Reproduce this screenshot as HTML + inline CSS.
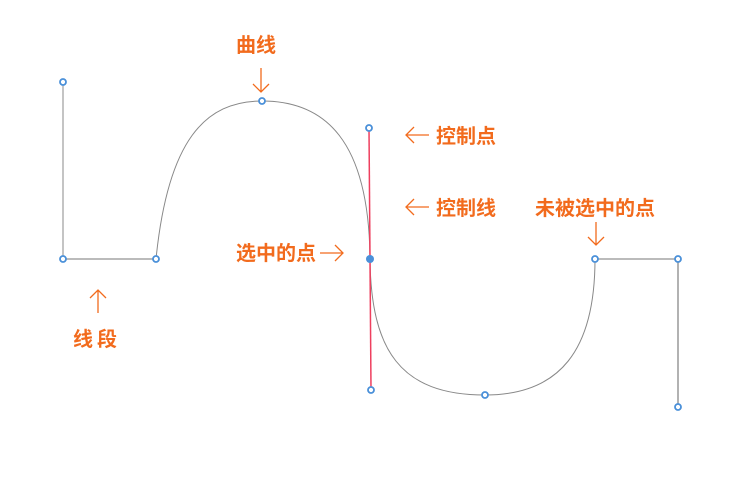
<!DOCTYPE html>
<html><head><meta charset="utf-8"><style>
html,body{margin:0;padding:0;background:#fff;width:731px;height:490px;overflow:hidden}
text{font-family:"Liberation Sans","Noto Sans CJK SC",sans-serif;font-weight:bold;font-size:20px;fill:#f26b1d}
</style></head><body>
<svg width="731" height="490" viewBox="0 0 731 490" xmlns="http://www.w3.org/2000/svg">
<g fill="none">
<line x1="63" y1="82" x2="63" y2="259" stroke="#888" stroke-width="1"/>
<line x1="63" y1="259" x2="156" y2="259" stroke="#bbb" stroke-width="2"/>
<line x1="595" y1="259" x2="678" y2="259" stroke="#bbb" stroke-width="2"/>
<line x1="678" y1="259" x2="678" y2="407" stroke="#999" stroke-width="1.5"/>
<path d="M156 259 C168 140 205 101 262 101 C325 101 369 140 370 259 C371 350 400 395 485 395 C560 395 595 350 595 259" stroke="#888" stroke-width="1"/>
<line x1="369" y1="128" x2="371" y2="390" stroke="#ee3f5e" stroke-width="1.5"/>
<g stroke="#f26b1d" stroke-width="1.3">
<path d="M261 68 V92 M253 84 L261 92 L269 84"/>
<path d="M98 313 V290 M90 298 L98 290 L106 298"/>
<path d="M429 135 H406 M414 127 L406 135 L414 143"/>
<path d="M429 207 H406 M414 199 L406 207 L414 215"/>
<path d="M320 253 H343 M335 245 L343 253 L335 261"/>
<path d="M596 222 V245 M588 237 L596 245 L604 237"/>
</g>
</g>
<g fill="#fff" stroke="#4a90d9" stroke-width="1.8">
<circle cx="63" cy="82" r="3"/><circle cx="63" cy="259" r="3"/><circle cx="156" cy="259" r="3"/>
<circle cx="262" cy="101" r="3"/><circle cx="369" cy="128" r="3"/><circle cx="371" cy="390" r="3"/>
<circle cx="485" cy="395" r="3"/><circle cx="595" cy="259" r="3"/><circle cx="678" cy="259" r="3"/><circle cx="678" cy="407" r="3"/>
</g>
<circle cx="370" cy="259" r="4" fill="#4a90d9"/>
<text x="236" y="52">曲线</text>
<text x="436" y="143">控制点</text>
<text x="436" y="215">控制线</text>
<text x="236" y="260">选中的点</text>
<text x="535" y="215">未被选中的点</text>
<text x="73" y="346" letter-spacing="4">线段</text>
</svg>
</body></html>
